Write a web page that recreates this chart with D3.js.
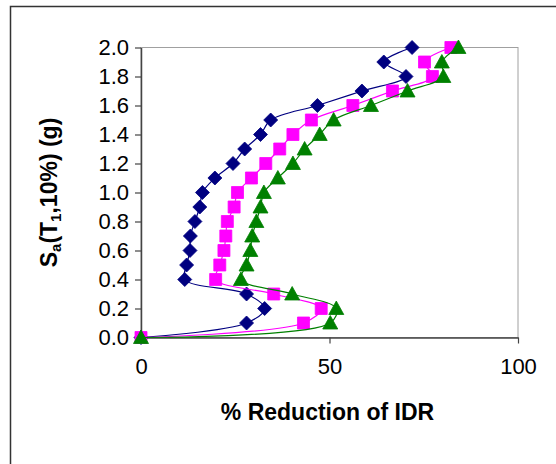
<!DOCTYPE html>
<html>
<head>
<meta charset="utf-8">
<script src="https://cdn.jsdelivr.net/npm/d3@7"></script>
<style>
  html, body { margin: 0; padding: 0; background: #fff; }
  svg { display: block; font-family: "Liberation Sans", Arial, sans-serif; }
</style>
</head>
<body>
<svg id="chart" width="556" height="464"></svg>
<script>
// ---- data ----
const saLevels = [0.0, 0.1, 0.2, 0.3, 0.4, 0.5, 0.6, 0.7, 0.8, 0.9, 1.0,
                  1.1, 1.2, 1.3, 1.4, 1.5, 1.6, 1.7, 1.8, 1.9, 2.0];
const seriesBlue  = [0, 28.0, 32.8, 28.0, 11.6, 12.1, 13.0, 13.1, 14.3, 15.6, 16.3,
                     19.6, 24.4, 27.5, 31.7, 34.4, 46.8, 58.6, 70.3, 64.4, 71.9];
const seriesPink  = [0, 43.1, 47.8, 35.2, 19.8, 20.9, 22.0, 22.5, 22.9, 24.7, 25.6,
                     29.3, 33.1, 36.8, 40.3, 45.2, 56.2, 66.7, 77.3, 75.2, 82.2];
const seriesGreen = [0, 50.2, 51.8, 40.1, 26.5, 28.0, 29.0, 29.5, 30.6, 31.7, 32.6,
                     36.3, 40.3, 43.4, 47.4, 51.1, 61.0, 70.7, 80.2, 79.8, 84.2];
const xTicks = [0, 50, 100];
const yTicks = [0.0, 0.2, 0.4, 0.6, 0.8, 1.0, 1.2, 1.4, 1.6, 1.8, 2.0];

const svg = d3.select("#chart");

// outer chart frame
svg.append("rect")
  .attr("x", 10.5).attr("y", 6.5).attr("width", 700).attr("height", 700)
  .attr("fill", "#fff").attr("stroke", "#333").attr("stroke-width", 1.5);

const plot = { left: 141, right: 518, top: 47.5, bottom: 337.5 };
const x = d3.scaleLinear().domain([0, 100]).range([plot.left, plot.right]);
const y = d3.scaleLinear().domain([0, 2]).range([plot.bottom, plot.top]);

// plot area border (gray)
svg.append("rect")
  .attr("x", plot.left).attr("y", plot.top)
  .attr("width", plot.right - plot.left).attr("height", plot.bottom - plot.top)
  .attr("fill", "none").attr("stroke", "#a0a0a0").attr("stroke-width", 1);

// axes
const yAxis = d3.axisLeft(y).tickValues(yTicks).tickFormat(d3.format(".1f"))
  .tickSizeInner(6).tickSizeOuter(0).tickPadding(6);
const xAxis = d3.axisBottom(x).tickValues(xTicks).tickFormat(d3.format("d"))
  .tickSizeInner(6).tickSizeOuter(0).tickPadding(15);

const gy = svg.append("g").attr("transform", `translate(${plot.left},0)`).call(yAxis);
const gx = svg.append("g").attr("transform", `translate(0,${plot.bottom})`).call(xAxis);
[gx, gy].forEach(g => {
  g.select(".domain").attr("stroke", "#444").attr("stroke-width", 1.5);
  g.selectAll(".tick line").attr("stroke", "#444").attr("stroke-width", 1.2);
  g.selectAll(".tick text").attr("fill", "#000")
    .style("font-family", '"Liberation Sans", Arial, sans-serif')
    .style("font-size", "22px");
});

// axis titles
svg.append("text")
  .attr("x", (plot.left + plot.right) / 2 - 2).attr("y", 420)
  .attr("text-anchor", "middle")
  .style("font-size", "23px").style("font-weight", "bold")
  .text("% Reduction of IDR");

const yt = svg.append("text")
  .attr("transform", `translate(57,${(plot.top + plot.bottom) / 2}) rotate(-90)`)
  .attr("text-anchor", "middle")
  .style("font-size", "23px").style("font-weight", "bold");
yt.append("tspan").text("S");
yt.append("tspan").attr("dy", 4).style("font-size", "15px").text("a");
yt.append("tspan").attr("dy", -4).text("(T");
yt.append("tspan").attr("dy", 4).style("font-size", "15px").text("1");
yt.append("tspan").attr("dy", -4).text(",10%) (g)");

// series
const series = [
  { values: seriesBlue,  color: "#000080", marker: "diamond" },
  { values: seriesPink,  color: "#ff00ff", marker: "square" },
  { values: seriesGreen, color: "#008000", marker: "triangle" }
];

const line = d3.line()
  .x(d => x(d[0])).y(d => y(d[1]))
  .curve(d3.curveCatmullRom.alpha(0.5));

function markerPath(type) {
  if (type === "diamond") return "M0,-7L7,0L0,7L-7,0Z";
  if (type === "square") return "M-6,-6L6,-6L6,6L-6,6Z";
  return "M0,-7.5L7.5,6L-7.5,6Z";
}

series.forEach(s => {
  const pts = saLevels.map((sa, i) => [s.values[i], sa]);
  const g = svg.append("g");
  g.append("path").datum(pts)
    .attr("d", line).attr("fill", "none")
    .attr("stroke", s.color).attr("stroke-width", 1.2);
  g.selectAll("path.m").data(pts).join("path")
    .attr("class", "m")
    .attr("transform", d => `translate(${x(d[0])},${y(d[1])})`)
    .attr("d", markerPath(s.marker))
    .attr("fill", s.color)
    .attr("stroke", s.color).attr("stroke-width", 0.8);
});
</script>
</body>
</html>
